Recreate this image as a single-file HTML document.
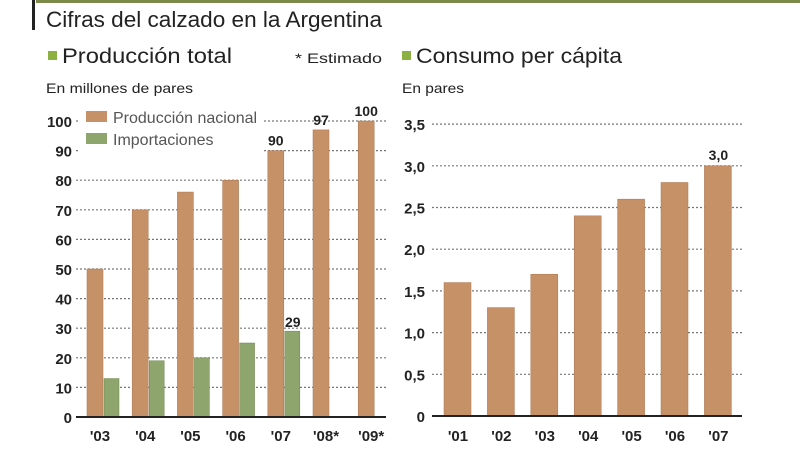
<!DOCTYPE html>
<html><head><meta charset="utf-8"><style>
body{margin:0;background:#fff;width:800px;height:450px;overflow:hidden;font-family:"Liberation Sans",sans-serif}
svg text{font-family:"Liberation Sans",sans-serif}
</style></head><body>
<svg width="800" height="450">
<rect x="36" y="0" width="764" height="3" fill="#7d8b4a"/>
<rect x="32" y="0" width="3" height="30" fill="#222"/>
<text x="46" y="27" font-size="22" fill="#222" textLength="336" lengthAdjust="spacingAndGlyphs">Cifras del calzado en la Argentina</text>
<rect x="48" y="51" width="9" height="9" fill="#8db043"/>
<text x="62" y="63" font-size="21" fill="#222" textLength="170" lengthAdjust="spacingAndGlyphs">Producción total</text>
<text x="295" y="63" font-size="14" fill="#222" textLength="87" lengthAdjust="spacingAndGlyphs">* Estimado</text>
<text x="46" y="93" font-size="14" fill="#222" textLength="147" lengthAdjust="spacingAndGlyphs">En millones de pares</text>
<rect x="402" y="51" width="9" height="9" fill="#8db043"/>
<text x="416" y="63" font-size="21" fill="#222" textLength="206" lengthAdjust="spacingAndGlyphs">Consumo per cápita</text>
<text x="402" y="93" font-size="14" fill="#222" textLength="62" lengthAdjust="spacingAndGlyphs">En pares</text>
<g id="left"></g><g id="right"></g>
</svg>
<script>
const years=["'03","'04","'05","'06","'07","'08*","'09*"];
const produccion=[50,70,76,80,90,97,100];
const importaciones=[13,19,20,25,29,null,null];
const leftTicks=[0,10,20,30,40,50,60,70,80,90,100];
const years2=["'01","'02","'03","'04","'05","'06","'07"];
const consumo=[1.6,1.3,1.7,2.4,2.6,2.8,3.0];
const rightTicks=[0,0.5,1,1.5,2,2.5,3,3.5];
const NS="http://www.w3.org/2000/svg";
function mk(p,t,a,txt){const e=document.createElementNS(NS,t);for(const k in a)e.setAttribute(k,a[k]);if(txt!=null)e.textContent=txt;p.appendChild(e);return e;}
const BROWN="#c79168",GREEN="#8fa56e";
// left
const L=document.getElementById('left');
const ly=v=>417-v*2.96, lx=i=>100+i*45.2;
leftTicks.forEach(t=>{
 const g=mk(L,'line',{x1:76,x2:386,y1:ly(t),y2:ly(t),stroke:'#777','stroke-dasharray':'2,2','stroke-width':1.2});
 
 const tx=mk(L,'text',{x:72,y:ly(t)+6,'font-size':15,'font-weight':'bold','text-anchor':'end',fill:'#222'},String(t));
 
});
// legend
const lg=mk(L,'rect',{x:78,y:110,width:186,height:42,fill:'#fff'});
[[BROWN,'Producción nacional',117],[GREEN,'Importaciones',139]].forEach(([c,s,y])=>{
 const r=mk(L,'rect',{x:86,y:y-6,width:21,height:11,fill:c});
 const t=mk(L,'text',{x:113,y:y+6,'font-size':16,fill:'#555'},s);
});
years.forEach((y,i)=>{
 const b=mk(L,'rect',{x:lx(i)-13,y:ly(produccion[i]),width:16,height:ly(0)-ly(produccion[i]),fill:BROWN,stroke:'#a87550','stroke-width':0.5});
 
 if(importaciones[i]!=null){
  const g=mk(L,'rect',{x:lx(i)+4,y:ly(importaciones[i]),width:15,height:ly(0)-ly(importaciones[i]),fill:GREEN,stroke:'#6f8550','stroke-width':0.5});
  
 }
 const t=mk(L,'text',{x:lx(i),y:441,'font-size':15,'font-weight':'bold','text-anchor':'middle',fill:'#222'},y);
 
});
[4,5,6].forEach(i=>{
 const v=produccion[i];
 const t=mk(L,'text',{x:lx(i)-5,y:ly(v)-5,'font-size':14,'font-weight':'bold','text-anchor':'middle',fill:'#222'},String(v));
 
});
{const t=mk(L,'text',{x:lx(4)+12,y:ly(importaciones[4])-4,'font-size':14,'font-weight':'bold','text-anchor':'middle',fill:'#222'},String(importaciones[4]));
 }
const ax=mk(L,'line',{x1:76,x2:386,y1:ly(0),y2:ly(0),stroke:'#222','stroke-width':2});

// right
const R=document.getElementById('right');
const ry=v=>416-v*83.4, rx=i=>458+i*43.4;
rightTicks.forEach(t=>{
 const g=mk(R,'line',{x1:432,x2:742,y1:ry(t),y2:ry(t),stroke:'#777','stroke-dasharray':'2,2','stroke-width':1.2});
 
 const tx=mk(R,'text',{x:425,y:ry(t)+6,'font-size':15,'font-weight':'bold','text-anchor':'end',fill:'#222'},t===0?'0':t.toFixed(1).replace('.',','));
 
});
years2.forEach((y,i)=>{
 const b=mk(R,'rect',{x:rx(i)-14,y:ry(consumo[i]),width:27,height:ry(0)-ry(consumo[i]),fill:BROWN,stroke:'#a87550','stroke-width':0.5});
 
 const t=mk(R,'text',{x:rx(i),y:441,'font-size':15,'font-weight':'bold','text-anchor':'middle',fill:'#222'},y);
 
});
{const t=mk(R,'text',{x:rx(6),y:ry(consumo[6])-6,'font-size':14,'font-weight':'bold','text-anchor':'middle',fill:'#222'},consumo[6].toFixed(1).replace('.',','));
 }
const ax2=mk(R,'line',{x1:432,x2:742,y1:ry(0),y2:ry(0),stroke:'#222','stroke-width':2});

</script>
</body></html>
